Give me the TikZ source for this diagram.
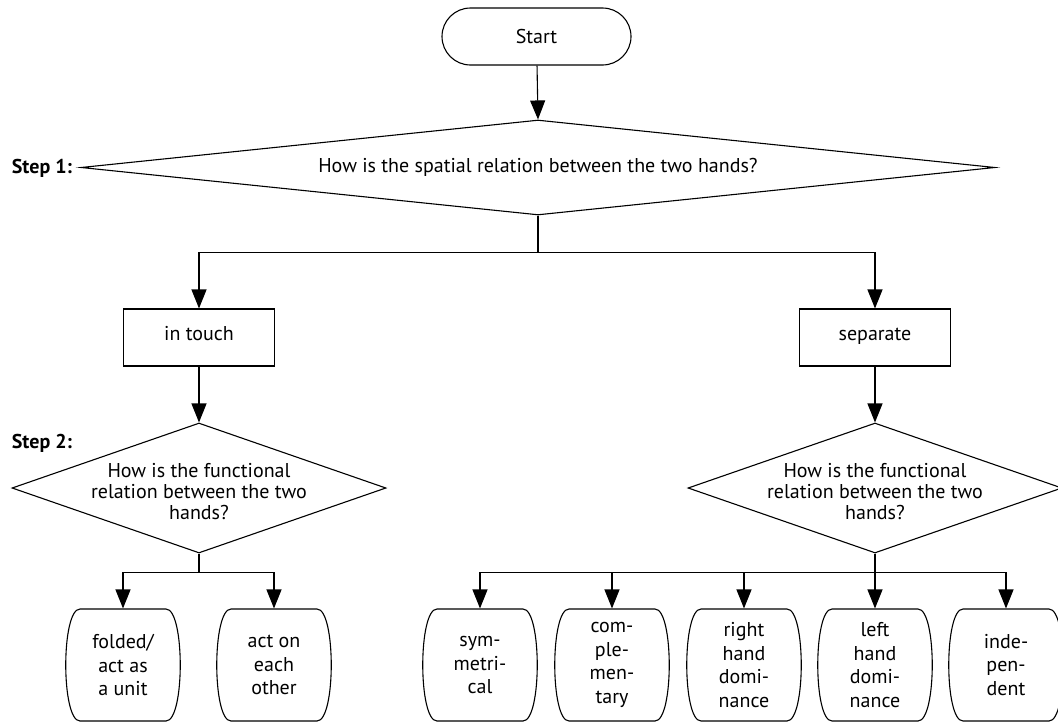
\documentclass[tikz,border=0pt]{standalone}
\usepackage{fontspec}
\setmainfont{PT Sans}
\usetikzlibrary{arrows.meta,shapes.geometric,shapes.misc}
\begin{document}
\begin{tikzpicture}[x=1pt,y=-1pt, line width=1.1pt,
  base/.style={font=\fontsize{20}{21}\selectfont, align=center},
  arr/.style={-{Triangle[length=19pt,width=15pt]}},
  startbox/.style={rounded rectangle, draw, minimum width=189pt, minimum height=57pt, inner sep=0, font=\fontsize{20}{21}\selectfont},
  procbox/.style={rectangle, draw, minimum width=151pt, minimum height=57pt, inner sep=0, text height=0.72em, text depth=0.22em, font=\fontsize{20}{21}\selectfont},
  decision/.style={diamond, draw, inner sep=0},
  barrelbox/.style={rectangle, minimum width=112pt, minimum height=112pt, inner sep=0, align=center, font=\fontsize{20}{23.5}\selectfont},
  steplabel/.style={font=\fontsize{20}{21}\selectfont\bfseries, anchor=west}
]
\useasboundingbox (0,0) rectangle (1058,723);

\node[startbox] (start) at (536.5,36.5) {Start};

\node[decision, minimum width=914pt, minimum height=95pt] (d1) at (538,167.5) {};
\node[base] (d1t) at (d1.center) {How is the spatial relation between the two hands?};
\node[steplabel] (s1) at (8,168) {Step 1:};

\node[procbox] (intouch) at (199,337.5) {in touch};
\node[procbox] (separate) at (875,337.5) {separate};

\node[steplabel] (s2) at (8,443) {Step 2:};
\node[decision, minimum width=374pt, minimum height=130pt] (d2l) at (199,488) {};
\node[base] (d2lt) at ([yshift=-4pt]d2l.center) {How is the functional\\relation between the two\\hands?};
\node[decision, minimum width=374pt, minimum height=130pt] (d2r) at (875,488) {};
\node[base] (d2rt) at ([yshift=-4pt]d2r.center) {How is the functional\\relation between the two\\hands?};

\node[barrelbox] (b1) at (123,665) {folded/\\act as\\a unit};
\node[barrelbox] (b2) at (274,665) {act on\\each\\other};
\node[barrelbox] (r1) at (480,665) {sym-\\metri-\\cal};
\node[barrelbox] (r2) at (612,665) {com-\\ple-\\men-\\tary};
\node[barrelbox] (r3) at (744,665) {right\\hand\\domi-\\nance};
\node[barrelbox] (r4) at (875,665) {left\\hand\\domi-\\nance};
\node[barrelbox] (r5) at (1006,665) {inde-\\pen-\\dent};

\foreach \n in {b1,b2,r1,r2,r3,r4,r5}
  \draw[shift={(\n.center)}] (-43,-56) -- (43,-56) .. controls (62,-56) and (62,56) .. (43,56) -- (-43,56) .. controls (-62,56) and (-62,-56) .. cycle;

\draw[arr] (start) -- (d1.north);
\draw[arr] (d1.south) -- ++(0,37) -| (intouch.north);
\draw[arr] (d1.south) -- ++(0,37) -| (separate.north);
\draw[arr] (intouch) -- (d2l.north);
\draw[arr] (separate) -- (d2r.north);

\draw[arr] (d2l.south) -- ++(0,19) -| (b1.north);
\draw[arr] (d2l.south) -- ++(0,19) -| (b2.north);

\draw[arr] (d2r.south) -- ++(0,19) -| (r1.north);
\draw[arr] (d2r.south) -- ++(0,19) -| (r2.north);
\draw[arr] (d2r.south) -- ++(0,19) -| (r3.north);
\draw[arr] (d2r.south) -- (r4.north);
\draw[arr] (d2r.south) -- ++(0,19) -| (r5.north);
\end{tikzpicture}
\end{document}
